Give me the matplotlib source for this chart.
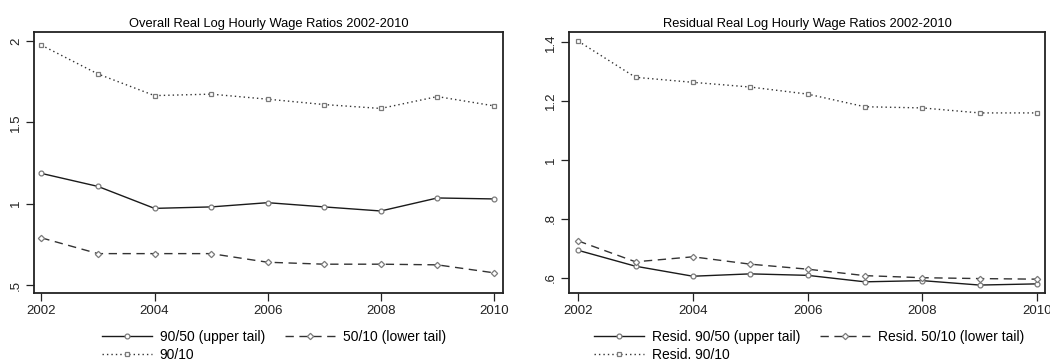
import matplotlib
matplotlib.use("Agg")
import matplotlib.pyplot as plt

plt.rcParams['font.family'] = ['Liberation Sans', 'DejaVu Sans']

years = [2002, 2003, 2004, 2005, 2006, 2007, 2008, 2009, 2010]

overall_9050 = [1.186, 1.106, 0.971, 0.980, 1.006, 0.980, 0.955, 1.035, 1.029]
overall_5010 = [0.790, 0.693, 0.693, 0.693, 0.640, 0.628, 0.628, 0.624, 0.575]
overall_9010 = [1.974, 1.797, 1.664, 1.673, 1.642, 1.609, 1.585, 1.658, 1.601]

resid_9050 = [0.693, 0.639, 0.605, 0.613, 0.608, 0.586, 0.590, 0.575, 0.579]
resid_5010 = [0.725, 0.654, 0.671, 0.646, 0.629, 0.607, 0.600, 0.597, 0.595]
resid_9010 = [1.404, 1.281, 1.264, 1.248, 1.224, 1.181, 1.177, 1.160, 1.160]

xticks = [2002, 2004, 2006, 2008, 2010]
left_yticks = [0.5, 1.0, 1.5, 2.0]
left_ylabels = ['.5', '1', '1.5', '2']
right_yticks = [0.6, 0.8, 1.0, 1.2, 1.4]
right_ylabels = ['.6', '.8', '1', '1.2', '1.4']

titles = ['Overall Real Log Hourly Wage Ratios 2002-2010',
          'Residual Real Log Hourly Wage Ratios 2002-2010']
labels_left = ['90/50 (upper tail)', '50/10 (lower tail)', '90/10']
labels_right = ['Resid. 90/50 (upper tail)', 'Resid. 50/10 (lower tail)', 'Resid. 90/10']

W, H = 1050, 360
fig = plt.figure(figsize=(W / 100, H / 100), dpi=100)

def px_axes(x0, y0, x1, y1):
    return fig.add_axes([x0 / W, 1 - y1 / H, (x1 - x0) / W, (y1 - y0) / H])

ax1 = px_axes(34, 32.3, 503, 293)
ax2 = px_axes(569, 32.3, 1045, 293)

mk_edge = '#7a7a7a'
styles = [
    dict(color='#1a1a1a', linestyle='-', marker='o'),
    dict(color='#333333', linestyle=(0, (6, 4)), marker='D'),
    dict(color='#333333', linestyle=(0, (1, 2.2)), marker='s'),
]
msizes = [3.5, 3.2, 3.5]

def draw(ax, series, labels, title, yticks, ylabels, ylim, xlim, legx):
    handles = []
    for vals, st, ms, lab in zip(series, styles, msizes, labels):
        h, = ax.plot(years, vals, linewidth=1.0, markersize=ms,
                     markerfacecolor='white', markeredgecolor=mk_edge,
                     markeredgewidth=0.9, label=lab, **st)
        handles.append(h)
    ax.set_xlim(*xlim)
    ax.set_ylim(*ylim)
    ax.set_xticks(xticks)
    ax.set_xticklabels([str(x) for x in xticks], fontsize=9.5)
    ax.set_yticks(yticks)
    ax.set_yticklabels(ylabels, fontsize=9.5, rotation=90, va='center')
    ax.tick_params(direction='out', length=5.5, width=0.9, colors='#222222', pad=3)
    for s in ax.spines.values():
        s.set_linewidth(1.3)
        s.set_color('#222222')
    ax.set_title(title, fontsize=9.3, pad=4)
    order = [handles[0], handles[2], handles[1]]
    olabels = [labels[0], labels[2], labels[1]]
    fig.legend(order, olabels, loc='upper left',
               bbox_to_anchor=(legx / W, 1 - 329.5 / H), ncol=2, frameon=False,
               fontsize=10, handlelength=3.6, handletextpad=0.55,
               columnspacing=1.45, borderpad=0, borderaxespad=0,
               labelspacing=0.3)

draw(ax1, [overall_9050, overall_5010, overall_9010], labels_left, titles[0],
     left_yticks, left_ylabels, (0.451, 2.053), (2001.87, 2010.16), 102)
draw(ax2, [resid_9050, resid_5010, resid_9010], labels_right, titles[1],
     right_yticks, right_ylabels, (0.548, 1.434), (2001.84, 2010.14), 594)

fig.savefig('out.png', dpi=100, facecolor='white')
